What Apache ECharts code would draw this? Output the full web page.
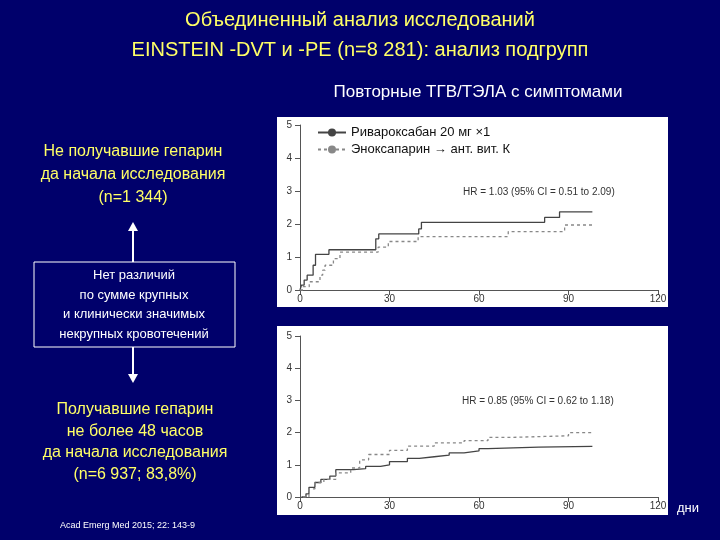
<!DOCTYPE html>
<html>
<head>
<meta charset="utf-8">
<script src="https://cdn.jsdelivr.net/npm/echarts@6/dist/echarts.min.js"></script>
<style>
html,body{margin:0;padding:0;background:#00006b;}
#main{width:720px;height:540px;}
</style>
</head>
<body>
<div id="main"></div>
<script>
// верхний график: не получавшие гепарин
var topRiva = [[0,0],[0.5,0.15],[1.4,0.3],[2.4,0.45],[4.4,0.75],[5.2,1.08],[9.7,1.22],[25.4,1.55],[26.4,1.7],[39.8,1.85],[40.7,2.05],[82,2.2],[87,2.37],[98,2.37]];
var topEnox = [[0,0],[1.1,0.1],[3.1,0.25],[6.7,0.45],[7.6,0.6],[8.4,0.75],[11.2,0.95],[13.4,1.15],[26.2,1.3],[29.6,1.47],[39.6,1.62],[69.8,1.77],[88.7,1.97],[98,1.97]];
// нижний график: получавшие гепарин
var botRiva = [[0.5,0],[2,0.1],[3,0.3],[5,0.45],[7,0.55],[10,0.65],[12,0.85],[18,0.88],[22,0.95],[27,1.0],[30,1.1],[36,1.2],[40,1.25],[45,1.3],[50,1.37],[55,1.43],[60,1.5],[63,1.55],[80,1.57],[98,1.57]];
var botEnox = [[1,0],[3,0.25],[5,0.45],[8,0.55],[12,0.75],[17,0.9],[20,1.15],[23,1.32],[30,1.45],[36,1.58],[45,1.68],[55,1.75],[63,1.85],[70,1.88],[82,1.9],[90,2.0],[98,2.05]];
var xTicks = [0,30,60,90,120];
var yTicks = [0,1,2,3,4,5];
var names = ['Ривароксабан 20 мг ×1','Эноксапарин → ант. вит. К'];

var chart = echarts.init(document.getElementById('main'));

function xAxis(i){
	return {type:'value',gridIndex:i,min:0,max:120,interval:30,
		axisLine:{lineStyle:{color:'#555'}},axisTick:{length:5,lineStyle:{color:'#555'}},
		splitLine:{show:false},axisLabel:{color:'#333',fontSize:10,margin:4}};
}
function yAxis(i){
	return {type:'value',gridIndex:i,min:0,max:5,interval:1,
		axisLine:{show:true,lineStyle:{color:'#555'}},axisTick:{show:true,length:5,lineStyle:{color:'#555'}},
		splitLine:{show:false},axisLabel:{color:'#333',fontSize:10,margin:8}};
}
function line(name,data,i,dashed){
	return {name:name,type:'line',step:'end',data:data,xAxisIndex:i,yAxisIndex:i,
		symbol:'none',lineStyle:{color:dashed?'#888':'#444',width:1.3,type:dashed?[3,3]:'solid'},
		itemStyle:{color:dashed?'#888':'#444'}};
}
var white = '#fff', yellow = '#ffff66';
var font = 'Liberation Sans, Arial, sans-serif';

var option = {
	backgroundColor:'#00006b',
	textStyle:{fontFamily:font},
	grid:[{left:300,right:62,top:125,height:165},{left:300,right:62,top:336,height:161}],
	xAxis:[xAxis(0),xAxis(1)],
	yAxis:[yAxis(0),yAxis(1)],
	legend:{data:names,orient:'vertical',left:312,top:121,itemWidth:28,itemHeight:10,itemGap:4,
		textStyle:{color:'#111',fontSize:13}},
	series:[line(names[0],topRiva,0,false),line(names[1],topEnox,0,true),
		line(names[0],botRiva,1,false),line(names[1],botEnox,1,true)],
	graphic:[
		{type:'rect',z:-10,shape:{x:277,y:117,width:391,height:190},style:{fill:'#fff'}},
		{type:'rect',z:-10,shape:{x:277,y:326,width:391,height:189},style:{fill:'#fff'}},
		{type:'text',left:'center',top:10,style:{text:'Объединенный анализ исследований',fill:yellow,fontSize:20,fontFamily:font}},
		{type:'text',left:'center',top:40,style:{text:'EINSTEIN -DVT и -PE (n=8 281): анализ подгрупп',fill:yellow,fontSize:20,fontFamily:font}},
		{type:'text',x:478,y:92,style:{text:'Повторные ТГВ/ТЭЛА с симптомами',fill:white,fontSize:17,fontFamily:font,align:'center',verticalAlign:'middle'}},
		{type:'text',x:133,y:175,style:{text:'Не получавшие гепарин\nда начала исследования\n(n=1 344)',fill:yellow,fontSize:16,lineHeight:23,fontFamily:font,align:'center',verticalAlign:'middle'}},
		{type:'line',shape:{x1:133,y1:262,x2:133,y2:228},style:{stroke:white,lineWidth:2}},
		{type:'polygon',shape:{points:[[128,231],[133,222],[138,231]]},style:{fill:white}},
		{type:'rect',shape:{x:34,y:262,width:201,height:85},style:{fill:'none',stroke:white,lineWidth:1}},
		{type:'text',x:134,y:305,style:{text:'Нет различий\nпо сумме крупных\nи клинически значимых\nнекрупных кровотечений',fill:white,fontSize:13,lineHeight:19.5,fontFamily:font,align:'center',verticalAlign:'middle'}},
		{type:'line',shape:{x1:133,y1:347,x2:133,y2:376},style:{stroke:white,lineWidth:2}},
		{type:'polygon',shape:{points:[[128,374],[133,383],[138,374]]},style:{fill:white}},
		{type:'text',x:135,y:442,style:{text:'Получавшие гепарин\nне более 48 часов\nда начала исследования\n(n=6 937; 83,8%)',fill:yellow,fontSize:16,lineHeight:21.5,fontFamily:font,align:'center',verticalAlign:'middle'}},
		{type:'text',x:60,y:526,style:{text:'Acad Emerg Med 2015; 22: 143-9',fill:white,fontSize:9,fontFamily:font,verticalAlign:'middle'}},
		{type:'text',x:677,y:508,style:{text:'дни',fill:white,fontSize:13,fontFamily:font,verticalAlign:'middle'}},
		{type:'text',x:463,y:192,style:{text:'HR = 1.03 (95% CI = 0.51 to 2.09)',fill:'#333',fontSize:10,fontFamily:font,verticalAlign:'middle'}},
		{type:'text',x:462,y:401,style:{text:'HR = 0.85 (95% CI = 0.62 to 1.18)',fill:'#333',fontSize:10,fontFamily:font,verticalAlign:'middle'}}
	]
};
chart.setOption(option);
</script>
</body>
</html>
